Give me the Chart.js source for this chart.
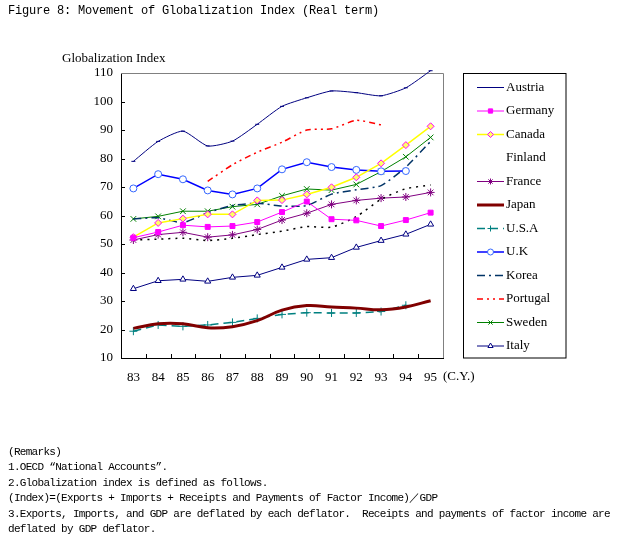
<!DOCTYPE html>
<html>
<head>
<meta charset="utf-8">
<script src="https://cdn.jsdelivr.net/npm/chart.js@4.4.1/dist/chart.umd.min.js"></script>
<style>
  body { margin: 0; background: #fff; }
  #wrap { position: relative; width: 619px; height: 541px; overflow: hidden; }
  #grafico { position: absolute; left: 0; top: 0; }
  .mono { position: absolute; left: 8px; font-family: "Liberation Mono", monospace; color: #000; white-space: pre; }
  #titulo { top: 4px; font-size: 12px; letter-spacing: -0.2px; }
  #notas { top: 445px; font-size: 11px; letter-spacing: -0.7px; line-height: 15.4px; }
</style>
</head>
<body>
<div id="wrap">
  <canvas id="grafico" width="619" height="541"></canvas>
  <div id="titulo" class="mono">Figure 8: Movement of Globalization Index (Real term)</div>
  <div id="notas" class="mono">(Remarks)
1.OECD “National Accounts”.
2.Globalization index is defined as follows.
(Index)=(Exports + Imports + Receipts and Payments of Factor Income)／GDP
3.Exports, Imports, and GDP are deflated by each deflator.  Receipts and payments of factor income are
deflated by GDP deflator.</div>
</div>

<script>
// Datos (años 83-95)
const years = ['83', '84', '85', '86', '87', '88', '89', '90', '91', '92', '93', '94', '95'];
const yTicks = [10, 20, 30, 40, 50, 60, 70, 80, 90, 100, 110];

const austria  = [79, 86, 89.6, 84.4, 86.1, 92, 98.3, 101.3, 103.7, 103.1, 102, 104.8, 110.8];
const germany  = [52.2, 54.2, 56.6, 56, 56.3, 57.7, 61.2, 64.9, 58.7, 58.3, 56.3, 58.4, 61];
const canada   = [52.4, 57.4, 58.9, 60.4, 60.4, 65.3, 65.4, 67.4, 69.9, 73.4, 78.3, 84.7, 91.3];
const finland  = [51.4, 51.7, 52, 51.2, 52, 53.3, 54.5, 56.1, 55.9, 59.6, 65.7, 69.4, 70.7];
const france   = [51.4, 53.3, 54.1, 52.4, 53.2, 55.1, 58.4, 60.8, 63.9, 65.3, 66.1, 66.5, 68.1];
const japan    = [20.4, 22, 22, 20.6, 21, 23.1, 26.8, 28.4, 27.9, 27.5, 26.9, 27.9, 30.1];
const usa      = [19.4, 21.6, 21.1, 21.6, 22.5, 23.9, 25.3, 25.9, 25.8, 25.8, 26.3, 28.5, null];
const uk       = [69.5, 74.5, 72.7, 68.8, 67.4, 69.5, 76.2, 78.7, 77, 76, 75.5, 75.6, null];
const korea    = [58.8, 59.2, 57.5, 61, 63.5, 64.3, 63.3, 63.5, 67.5, 69, 70.5, 77, 86];
const portugal = [null, null, null, 72, 77.8, 82.2, 85.7, 90, 90.4, 93.4, 91.8, null, null];
const sweden   = [58.8, 59.7, 61.5, 61.5, 63.1, 63.9, 66.9, 69.3, 68.9, 70.9, 75.4, 80.6, 87.4];
const italy    = [34.3, 37.1, 37.6, 36.9, 38.3, 39, 41.8, 44.6, 45.2, 48.8, 51.2, 53.4, 56.9];

const serif = '"Liberation Serif", "Times New Roman", serif';

// helper para crear cada serie
function serie(label, data, color, extra) {
  return Object.assign({
    label: label,
    data: data,
    borderColor: color,
    backgroundColor: color,
    borderWidth: 1,
    pointRadius: 0,
    pointBorderWidth: 1,
    tension: 0,
    spanGaps: false,
    clip: false
  }, extra || {});
}

const datasets = [
  serie('Austria', austria, '#000080', { pointStyle: 'line', pointRadius: 2, tension: 0.2 }),
  serie('Germany', germany, '#FF00FF', { pointStyle: 'rect', pointRadius: 3.5 }),
  serie('Canada', canada, '#FFFF00', { borderWidth: 1.5, pointStyle: 'rectRot', pointRadius: 3.5,
                                       pointBorderColor: '#FF00FF', pointBackgroundColor: '#FFFF66' }),
  serie('Finland', finland, '#000000', { borderWidth: 1.5, borderDash: [2, 5], tension: 0.2, noLegendLine: true }),
  serie('France', france, '#800080', { pointStyle: 'star', pointRadius: 4 }),
  serie('Japan', japan, '#800000', { borderWidth: 3, tension: 0.4 }),
  serie('U.S.A', usa, '#008080', { borderWidth: 1.5, borderDash: [8, 5], pointStyle: 'cross', pointRadius: 4 }),
  serie('U.K', uk, '#0000FF', { borderWidth: 1.5, pointStyle: 'circle', pointRadius: 3.5,
                                pointBorderColor: '#3366FF', pointBackgroundColor: '#FFFFFF' }),
  serie('Korea', korea, '#003366', { borderWidth: 1.5, borderDash: [8, 4, 2, 4], tension: 0.2 }),
  serie('Portugal', portugal, '#FF0000', { borderWidth: 1.5, borderDash: [6, 4, 2, 4, 2, 4], tension: 0.2 }),
  serie('Sweden', sweden, '#008000', { pointStyle: 'crossRot', pointRadius: 4 }),
  serie('Italy', italy, '#000080', { pointStyle: 'triangle', pointRadius: 3.5, pointBackgroundColor: '#FFFFFF' })
];

// bordes, marcas internas, textos sueltos y leyenda propia
const decoracion = {
  id: 'decoracion',
  beforeDatasetsDraw(chart) {
    const { ctx, chartArea: a, scales: { x, y } } = chart;
    ctx.save();
    ctx.lineWidth = 1;
    // borde superior y derecho gris
    ctx.strokeStyle = '#808080';
    ctx.beginPath();
    ctx.moveTo(a.left, Math.round(a.top) + 0.5);
    ctx.lineTo(Math.round(a.right) + 0.5, Math.round(a.top) + 0.5);
    ctx.lineTo(Math.round(a.right) + 0.5, a.bottom);
    ctx.stroke();
    // marcas hacia dentro
    ctx.strokeStyle = '#000';
    ctx.beginPath();
    yTicks.slice(1, -1).forEach(v => {
      const py = Math.round(y.getPixelForValue(v)) + 0.5;
      ctx.moveTo(a.left, py);
      ctx.lineTo(a.left + 4, py);
    });
    const paso = x.getPixelForValue(1) - x.getPixelForValue(0);
    for (let i = 1; i < years.length; i++) {
      const px = Math.round(x.getPixelForValue(i) - paso / 2) + 0.5;
      ctx.moveTo(px, a.bottom);
      ctx.lineTo(px, a.bottom - 4);
    }
    ctx.stroke();
    ctx.restore();
  },
  afterDraw(chart) {
    const { ctx, chartArea: a } = chart;
    ctx.save();
    ctx.fillStyle = '#000';
    ctx.font = '13px ' + serif;
    ctx.textBaseline = 'middle';
    ctx.textAlign = 'left';
    ctx.fillText('Globalization Index', 62, 59);
    ctx.fillText('(C.Y.)', 443, 377);

    // leyenda
    ctx.strokeStyle = '#000';
    ctx.lineWidth = 1;
    ctx.strokeRect(463.5, 73.5, 102.5, 284.5);
    chart.data.datasets.forEach((ds, i) => {
      const ly = 87.5 + i * 23.5;
      ctx.save();
      if (!ds.noLegendLine) {
        ctx.strokeStyle = ds.borderColor;
        ctx.lineWidth = ds.borderWidth;
        ctx.setLineDash(ds.borderDash || []);
        ctx.beginPath();
        ctx.moveTo(477, ly);
        ctx.lineTo(504, ly);
        ctx.stroke();
        ctx.setLineDash([]);
        if (ds.pointRadius > 0 && Chart.helpers && Chart.helpers.drawPoint) {
          ctx.strokeStyle = ds.pointBorderColor || ds.borderColor;
          ctx.fillStyle = ds.pointBackgroundColor || ds.borderColor;
          ctx.lineWidth = 1;
          Chart.helpers.drawPoint(ctx, {
            pointStyle: ds.pointStyle, radius: Math.min(ds.pointRadius, 3), rotation: 0, borderWidth: 1
          }, 490.5, ly);
        }
      }
      ctx.restore();
      ctx.fillStyle = '#000';
      ctx.fillText(ds.label, 506, ly);
    });
    ctx.restore();
  }
};

const grafico = new Chart(document.getElementById('grafico'), {
  type: 'line',
  data: { labels: years, datasets: datasets },
  options: {
    responsive: false,
    animation: false,
    layout: { padding: { left: 0, top: 73, right: 176, bottom: 143 } },
    plugins: { legend: { display: false }, tooltip: { enabled: false } },
    scales: {
      x: {
        offset: true,
        grid: { display: false, drawTicks: false },
        border: { display: true, color: '#000', width: 1 },
        ticks: { color: '#000', font: { family: serif, size: 13 }, padding: 12, maxRotation: 0 },
        afterFit: s => { s.height = 40; }
      },
      y: {
        min: 10,
        max: 110,
        grid: { display: false, drawTicks: false },
        border: { display: true, color: '#000', width: 1 },
        afterBuildTicks: s => { s.ticks = yTicks.map(v => ({ value: v })); },
        ticks: { color: '#000', font: { family: serif, size: 13 }, padding: 8 },
        afterFit: s => { s.width = 121; }
      }
    }
  },
  plugins: [decoracion]
});
</script>
</body>
</html>
